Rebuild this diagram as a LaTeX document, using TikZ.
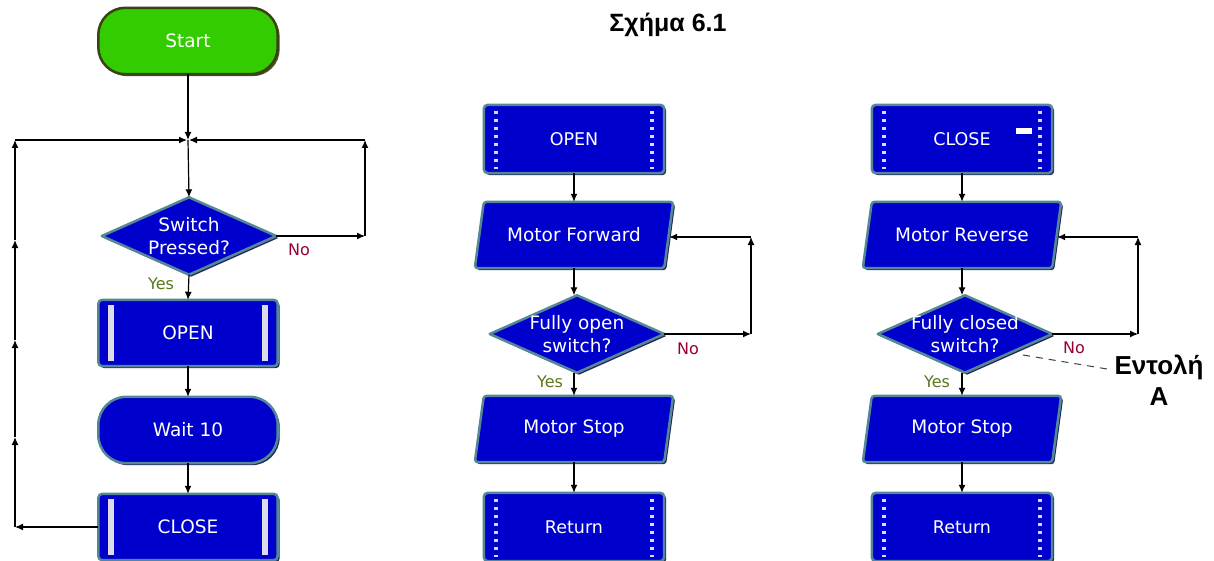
\documentclass[tikz,border=0pt]{standalone}
\usepackage{fontspec}
\setmainfont{DejaVu Sans}
\newfontfamily\titlefont{Liberation Sans}
\usetikzlibrary{arrows.meta,backgrounds,calc}
\definecolor{boxblue}{RGB}{0,0,204}
\definecolor{edgeteal}{RGB}{84,136,150}
\definecolor{edgedark}{RGB}{36,36,96}
\definecolor{startgreen}{RGB}{51,204,0}
\definecolor{startedge}{RGB}{72,84,24}
\definecolor{nored}{RGB}{153,0,51}
\definecolor{yesgreen}{RGB}{90,120,30}
\definecolor{barwhite}{RGB}{220,220,232}
\newcommand\mybox[3]{% #1 node, #2 radius, #3 fill
  \fill[edgedark,rounded corners=#2] ($(#1.north west)+(2,2)$) rectangle ($(#1.south east)+(2,2)$);
  \filldraw[fill=#3,draw=edgeteal,line width=2.5pt,rounded corners=#2] (#1.north west) rectangle (#1.south east);}
\newcommand\mypar[1]{%
  \fill[edgedark,rounded corners=3] ($(#1.north west)+(11,2)$) -- ($(#1.north east)+(2,2)$) -- ($(#1.south east)+(-7,2)$) -- ($(#1.south west)+(2,2)$) -- cycle;
  \filldraw[fill=boxblue,draw=edgeteal,line width=2.5pt,rounded corners=3] ($(#1.north west)+(9,0)$) -- (#1.north east) -- ($(#1.south east)+(-9,0)$) -- (#1.south west) -- cycle;}
\newcommand\mydia[1]{%
  \fill[edgedark] ($(#1.north)+(2,2)$) -- ($(#1.east)+(2,2)$) -- ($(#1.south)+(2,2)$) -- ($(#1.west)+(2,2)$) -- cycle;
  \filldraw[fill=boxblue,draw=edgeteal,line width=2.5pt,line join=round] (#1.north) -- (#1.east) -- (#1.south) -- (#1.west) -- cycle;}
\newcommand\mybars[1]{%
  \fill[barwhite] ($(#1.north west)+(10,5)$) rectangle ($(#1.south west)+(16,-5)$);
  \fill[barwhite] ($(#1.north east)+(-16,5)$) rectangle ($(#1.south east)+(-10,-5)$);}
\newcommand\mydots[1]{%
  \draw[white!85!blue,line width=4.5pt,dash pattern=on 3pt off 5pt] ($(#1.north west)+(12,6)$) -- ($(#1.south west)+(12,-4)$);
  \draw[white!85!blue,line width=4.5pt,dash pattern=on 3pt off 5pt] ($(#1.north east)+(-12,6)$) -- ($(#1.south east)+(-12,-4)$);}
\begin{document}
\begin{tikzpicture}[x=1pt,y=-1pt,
  txt/.style={text=white,font=\fontsize{18.5}{23}\selectfont,align=center,inner sep=0pt},
  boxn/.style={txt,minimum width=179pt,minimum height=66pt},
  subn/.style={txt,minimum width=180pt,minimum height=68pt,font=\fontsize{17.5}{23}\selectfont},
  parn/.style={txt,minimum width=198pt,minimum height=66pt},
  dian/.style={txt,minimum width=174pt,minimum height=77pt},
  arr/.style={-{Latex[length=8pt,width=7pt]},line width=1.2pt,black},
  yeslbl/.style={text=yesgreen,font=\fontsize{16}{18}\selectfont,inner sep=0pt},
  nolbl/.style={text=nored,font=\fontsize{16}{18}\selectfont,inner sep=0pt},
  bigbold/.style={font=\titlefont\bfseries\fontsize{#1}{31}\selectfont,align=center,inner sep=0pt}]
\useasboundingbox (0,0) rectangle (1214,561);

% ---------- left chart ----------
\node[boxn] (start) at (188,41) {Start};
\coordinate (J) at (188,140);
\node[dian] (sw) at (189,236) {Switch\\Pressed?};
\node[boxn] (open) at (188,333) {OPEN};
\node[boxn] (wait) at (188,430) {Wait 10};
\node[boxn] (close) at (188,527) {CLOSE};
\node[nolbl] (swno) at (299,250) {No};
\node[yeslbl] (swyes) at (161,284) {Yes};

% ---------- middle chart ----------
\node[subn] (mopen) at (574,139) {OPEN};
\node[parn] (mf) at (574,235) {Motor Forward};
\node[dian] (fo) at (577,334) {Fully open\\switch?};
\node[parn] (ms1) at (574,429) {Motor Stop};
\node[subn] (ret1) at (574,527) {Return};
\node[nolbl] (fono) at (688,349) {No};
\node[yeslbl] (foyes) at (550,382) {Yes};

% ---------- right chart ----------
\node[subn] (mclose) at (962,139) {CLOSE};
\node[parn] (mr) at (962,235) {Motor Reverse};
\node[dian] (fc) at (965,334) {Fully closed\\switch?};
\node[parn] (ms2) at (962,429) {Motor Stop};
\node[subn] (ret2) at (962,527) {Return};
\node[nolbl] (fcno) at (1074,348) {No};
\node[yeslbl] (fcyes) at (937,382) {Yes};

\node[bigbold=26] (ent) at (1159,380) {Εντολή\\Α};
\node[bigbold=25] (title) at (668,25) {Σχήμα 6.1};

\begin{pgfonlayer}{background}
  \fill[white] (0,0) rectangle (1214,561);
  \fill[startedge,rounded corners=27] ($(start.north west)+(2,2)$) rectangle ($(start.south east)+(2,2)$);
  \filldraw[fill=startgreen,draw=startedge!80!black,line width=2.5pt,rounded corners=27] (start.north west) rectangle (start.south east);
  \mydia{sw}
  \mybox{open}{4}{boxblue}\mybars{open}
  \mybox{wait}{28}{boxblue}
  \mybox{close}{4}{boxblue}\mybars{close}
  \mybox{mopen}{4}{boxblue}\mydots{mopen}
  \mypar{mf}
  \mydia{fo}
  \mypar{ms1}
  \mybox{ret1}{4}{boxblue}\mydots{ret1}
  \mybox{mclose}{4}{boxblue}\mydots{mclose}
  \fill[white] (1016,128) rectangle (1032,134);
  \mypar{mr}
  \mydia{fc}
  \mypar{ms2}
  \mybox{ret2}{4}{boxblue}\mydots{ret2}
\end{pgfonlayer}

% ---------- connectors left ----------
\draw[arr] (start.south) -- (J);
\draw[arr] (J) -- (sw.north);
\draw[arr] (sw.south) -- (open.north);
\draw[arr] (open.south) -- (wait.north);
\draw[arr] (wait.south) -- (close.north);
\coordinate (L0) at (15,527);
\coordinate (L1) at (15,437);
\coordinate (L2) at (15,340);
\coordinate (L3) at (15,240);
\coordinate (L4) at (15,140);
\draw[arr] (close.west) -- (L0);
\draw[arr] (L0) -- (L1);
\draw[arr] (L1) -- (L2);
\draw[arr] (L2) -- (L3);
\draw[arr] (L3) -- (L4);
\draw[arr] (L4) -- ([xshift=-1pt]J);
\coordinate (R1) at (365,236);
\coordinate (R2) at (365,140);
\draw[arr] (sw.east) -- (R1);
\draw[arr] (R1) -- (R2);
\draw[arr] (R2) -- ([xshift=1pt]J);

% ---------- connectors middle ----------
\draw[arr] (mopen.south) -- (mf.north);
\draw[arr] (mf.south) -- (fo.north -| mf.south);
\draw[arr] (fo.south -| ms1.north) -- (ms1.north);
\draw[arr] (ms1.south) -- (ret1.north);
\coordinate (M1) at (751,334);
\coordinate (M2) at (751,237);
\draw[arr] (fo.east) -- (M1);
\draw[arr] (M1) -- (M2);
\draw[arr] (M2) -- ($(mf.east)+(-4,2)$);

% ---------- connectors right ----------
\draw[arr] (mclose.south) -- (mr.north);
\draw[arr] (mr.south) -- (fc.north -| mr.south);
\draw[arr] (fc.south -| ms2.north) -- (ms2.north);
\draw[arr] (ms2.south) -- (ret2.north);
\coordinate (N1) at (1138,334);
\coordinate (N2) at (1138,237);
\draw[arr] (fc.east) -- (N1);
\draw[arr] (N1) -- (N2);
\draw[arr] (N2) -- ($(mr.east)+(-4,2)$);

\coordinate (DA) at (1023,355);
\draw[line width=1pt,black!75,dash pattern=on 7pt off 6pt] (DA) -- ($(ent.north west)+(-4,15)$);
\end{tikzpicture}
\end{document}
